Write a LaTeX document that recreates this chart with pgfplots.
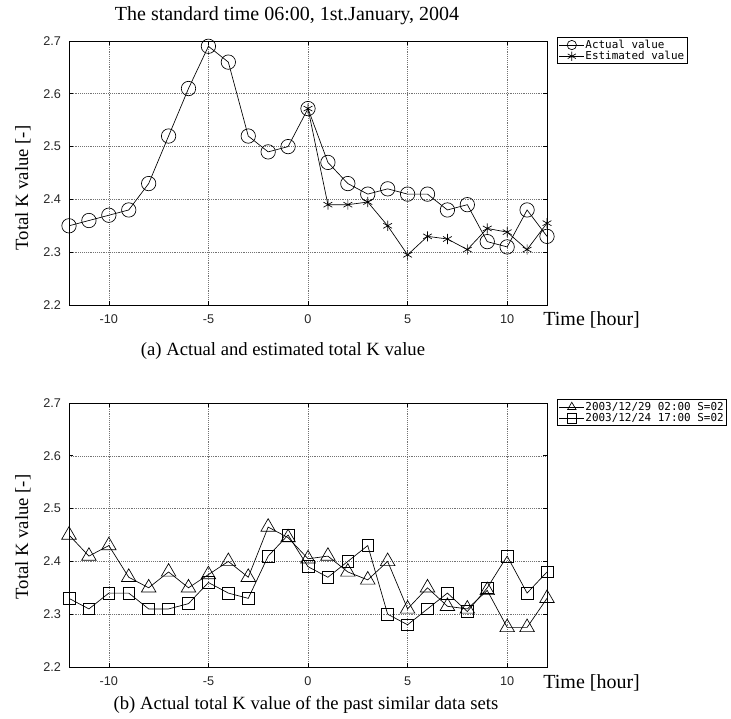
\documentclass[border=0pt]{standalone}
\usepackage{fontspec}
\setmainfont{Liberation Serif}
\newfontfamily\sansf{Liberation Sans}
\newfontfamily\monof{DejaVu Sans Mono}
\usepackage{pgfplots}
\pgfplotsset{compat=1.18}

\pgfplotstableread{
x y
-12 2.35
-11 2.36
-10 2.37
-9 2.38
-8 2.43
-7 2.52
-6 2.61
-5 2.69
-4 2.66
-3 2.52
-2 2.49
-1 2.50
0 2.572
1 2.47
2 2.43
3 2.41
4 2.42
5 2.41
6 2.41
7 2.38
8 2.39
9 2.32
10 2.31
11 2.38
12 2.33
}\actual

\pgfplotstableread{
x y
0 2.572
1 2.39
2 2.39
3 2.395
4 2.35
5 2.295
6 2.33
7 2.325
8 2.305
9 2.345
10 2.338
11 2.305
12 2.355
}\estimated

\pgfplotstableread{
x y
-12 2.45
-11 2.41
-10 2.43
-9 2.37
-8 2.35
-7 2.38
-6 2.35
-5 2.375
-4 2.40
-3 2.37
-2 2.465
-1 2.445
0 2.405
1 2.41
2 2.38
3 2.365
4 2.40
5 2.31
6 2.35
7 2.315
8 2.31
9 2.345
10 2.275
11 2.275
12 2.33
}\pastA

\pgfplotstableread{
x y
-12 2.33
-11 2.31
-10 2.34
-9 2.34
-8 2.31
-7 2.31
-6 2.32
-5 2.36
-4 2.34
-3 2.33
-2 2.41
-1 2.45
0 2.39
1 2.37
2 2.40
3 2.43
4 2.30
5 2.28
6 2.31
7 2.34
8 2.305
9 2.35
10 2.41
11 2.34
12 2.38
}\pastB

\pgfplotsset{
  kaxis/.style={
    scale only axis, width=358.5pt, height=198pt,
    anchor=south west,
    xmin=-12, xmax=12, ymin=2.2, ymax=2.7,
    xtick={-10,-5,0,5,10},
    ytick={2.2,2.3,2.4,2.5,2.6,2.7},
    yticklabels={2.2,2.3,2.4,2.5,2.6,2.7},
    grid=major,
    major grid style={densely dotted, black!55, line width=0.45pt},
    axis line style={line width=0.7pt},
    major tick length=3pt,
    tick style={black, line width=0.5pt},
    tick align=inside,
    xtick pos=both, ytick pos=both,
    tick label style={font=\sansf\fontsize{9.5}{10}\selectfont, text=black!85},
    xticklabel style={yshift=-4pt},
    yticklabel style={xshift=-2.5pt},
    /pgf/number format/assume math mode=true,
    legend style={at={(axis description cs:1.02,1.015)}, anchor=north west,
      font=\monof\fontsize{8.2}{9}\selectfont, draw=black, line width=0.6pt,
      inner sep=1.5pt, row sep=0pt,
      nodes={inner sep=0.6pt, text height=6pt, text depth=1.2pt},
      legend cell align=left},
    legend image code/.code={
      \draw[mark repeat=2,mark phase=2] plot coordinates {(0cm,0cm) (0.33cm,0cm) (0.66cm,0cm)};
    },
    every axis plot/.append style={black, line width=0.5pt},
  }
}

\begin{document}
\begin{tikzpicture}
\path[use as bounding box] (0,0) rectangle (548.25pt,538.5pt);

\node[font=\fontsize{15}{17}\selectfont] at (215.25pt,527pt) {The standard time 06:00, 1st.January, 2004};

\begin{axis}[kaxis, at={(51.75pt,309.75pt)},
  legend image post style={mark size=3.5pt}]
\addplot[mark=o, mark size=5.4pt] table[x=x,y=y] {\actual};
\addlegendentry{Actual value}
\addplot[mark=asterisk, mark size=3.8pt] table[x=x,y=y] {\estimated};
\addlegendentry{Estimated value}
\end{axis}

\node[rotate=90, font=\fontsize{14}{16}\selectfont] at (17.25pt,397.5pt) {Total K value [-]};
\node[anchor=west, font=\fontsize{15}{17}\selectfont] at (404pt,298.5pt) {Time [hour]};
\node[font=\fontsize{14}{16}\selectfont] at (212.25pt,275.25pt) {(a) Actual and estimated total K value};

\begin{axis}[kaxis, at={(51.75pt,38.25pt)},
  legend image post style={mark size=3.6pt}]
\addplot[mark=triangle, mark size=6.3pt] table[x=x,y=y] {\pastA};
\addlegendentry{2003/12/29 02:00 S=02}
\addplot[mark=square, mark size=4.4pt] table[x=x,y=y] {\pastB};
\addlegendentry{2003/12/24 17:00 S=02}
\end{axis}

\node[rotate=90, font=\fontsize{14}{16}\selectfont] at (17.25pt,135.75pt) {Total K value [-]};
\node[anchor=west, font=\fontsize{15}{17}\selectfont] at (404pt,26.25pt) {Time [hour]};
\node[font=\fontsize{14}{16}\selectfont] at (229.5pt,10pt) {(b) Actual total K value of the past similar data sets};
\end{tikzpicture}
\end{document}
